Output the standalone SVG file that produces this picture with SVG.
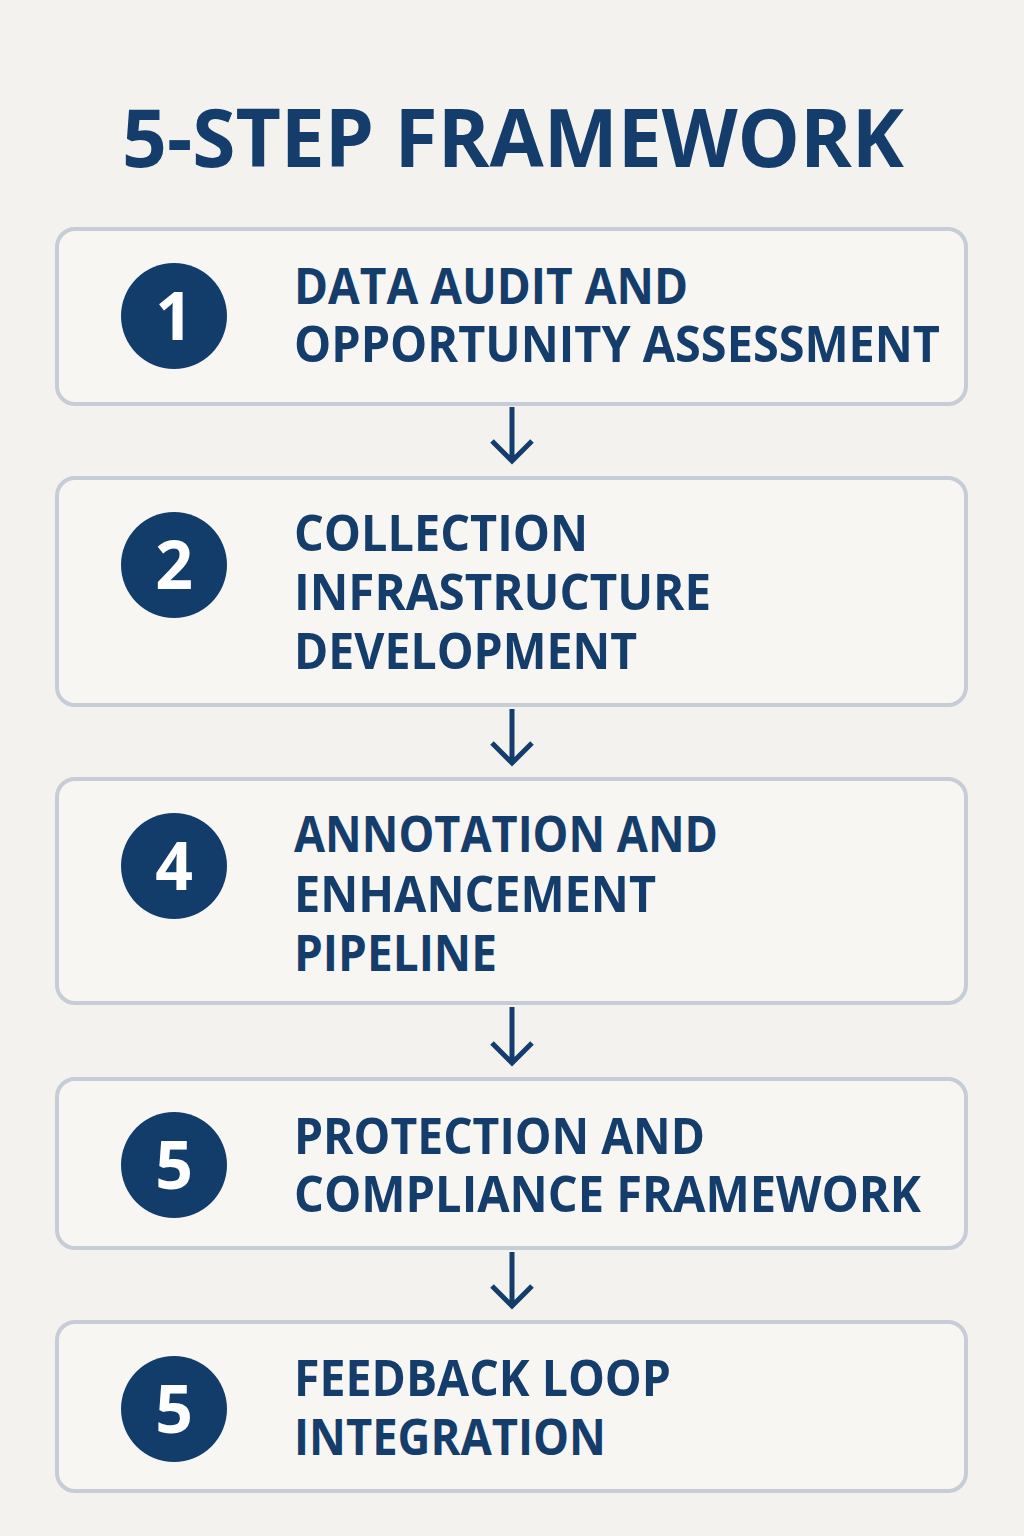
<svg xmlns="http://www.w3.org/2000/svg" width="1024" height="1536" viewBox="0 0 1024 1536">
<style>
.box{fill:#f7f6f2;stroke:#c7cdd6;stroke-width:4}
.dot{fill:#123c69}
.num{font-family:"Open Sans","Liberation Sans",sans-serif;font-weight:700;font-size:66px;fill:#ffffff;text-anchor:middle}
.lbl{font-family:"Open Sans","Liberation Sans",sans-serif;font-weight:700;font-size:50px;fill:#143d6b}
.title{font-family:"Open Sans","Liberation Sans",sans-serif;font-weight:700;font-size:80px;fill:#143d6b}
.arr{fill:none;stroke:#143d6b;stroke-width:5;stroke-linecap:butt;stroke-linejoin:miter}
</style>
<rect width="1024" height="1536" fill="#f4f2ee"/>
<text class="title" x="122" y="167" textLength="782" lengthAdjust="spacingAndGlyphs">5-STEP FRAMEWORK</text>

<g id="step1">
<rect class="box" x="57" y="229" width="909" height="175" rx="18"/>
<circle class="dot" cx="174" cy="316" r="53"/>
<text class="num" x="174" y="340">1</text>
<text class="lbl" x="294" y="304" textLength="394" lengthAdjust="spacingAndGlyphs">DATA AUDIT AND</text>
<text class="lbl" x="294" y="362" textLength="646" lengthAdjust="spacingAndGlyphs">OPPORTUNITY ASSESSMENT</text>
</g>

<g id="step2">
<rect class="box" x="57" y="478" width="909" height="227" rx="18"/>
<circle class="dot" cx="174" cy="565" r="53"/>
<text class="num" x="174" y="589">2</text>
<text class="lbl" x="294" y="551" textLength="294" lengthAdjust="spacingAndGlyphs">COLLECTION</text>
<text class="lbl" x="294" y="610" textLength="417" lengthAdjust="spacingAndGlyphs">INFRASTRUCTURE</text>
<text class="lbl" x="294" y="669" textLength="343" lengthAdjust="spacingAndGlyphs">DEVELOPMENT</text>
</g>

<g id="step3">
<rect class="box" x="57" y="779" width="909" height="224" rx="18"/>
<circle class="dot" cx="174" cy="866" r="53"/>
<text class="num" x="174" y="890">4</text>
<text class="lbl" x="294" y="852" textLength="424" lengthAdjust="spacingAndGlyphs">ANNOTATION AND</text>
<text class="lbl" x="294" y="912" textLength="362" lengthAdjust="spacingAndGlyphs">ENHANCEMENT</text>
<text class="lbl" x="294" y="971" textLength="203" lengthAdjust="spacingAndGlyphs">PIPELINE</text>
</g>

<g id="step4">
<rect class="box" x="57" y="1079" width="909" height="169" rx="18"/>
<circle class="dot" cx="174" cy="1165" r="53"/>
<text class="num" x="174" y="1189">5</text>
<text class="lbl" x="294" y="1154" textLength="411" lengthAdjust="spacingAndGlyphs">PROTECTION AND</text>
<text class="lbl" x="294" y="1212" textLength="627" lengthAdjust="spacingAndGlyphs">COMPLIANCE FRAMEWORK</text>
</g>

<g id="step5">
<rect class="box" x="57" y="1322" width="909" height="169" rx="18"/>
<circle class="dot" cx="174" cy="1409" r="53"/>
<text class="num" x="174" y="1433">5</text>
<text class="lbl" x="294" y="1396" textLength="377" lengthAdjust="spacingAndGlyphs">FEEDBACK LOOP</text>
<text class="lbl" x="294" y="1455" textLength="312" lengthAdjust="spacingAndGlyphs">INTEGRATION</text>
</g>

<g id="connectors">
<path class="arr" d="M512 407 V461 M492 441 L512 461 L532 441"/>
<path class="arr" d="M512 709 V763 M492 743 L512 763 L532 743"/>
<path class="arr" d="M512 1007 V1063 M492 1043 L512 1063 L532 1043"/>
<path class="arr" d="M512 1252 V1306 M492 1286 L512 1306 L532 1286"/>
</g>
</svg>
